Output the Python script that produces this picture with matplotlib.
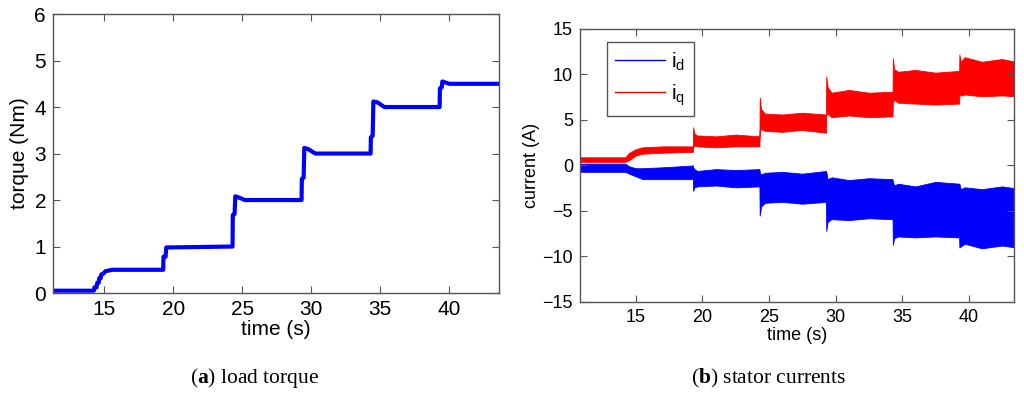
import numpy as np
import matplotlib.pyplot as plt

plt.rcParams['font.family'] = ['Liberation Sans', 'DejaVu Sans']
plt.rcParams['mathtext.fontset'] = 'custom'
plt.rcParams['mathtext.rm'] = 'Liberation Sans'
plt.rcParams['mathtext.it'] = 'Liberation Sans'
plt.rcParams['mathtext.bf'] = 'Liberation Serif:bold'

# =========================================================
# LOAD TORQUE (breakpoints)
t_torque = [11.3, 14.25, 14.3, 14.45, 14.5, 14.6, 14.65, 14.75, 14.8, 14.95, 15.1, 15.6,
            19.28, 19.3, 19.45, 19.5,
            24.3, 24.32, 24.45, 24.5, 24.7, 25.2, 29.3, 29.32, 29.45, 29.5, 29.75, 30.3,
            34.3, 34.32, 34.45, 34.5, 34.8, 35.3, 39.3, 39.32, 39.45, 39.5, 39.7, 40.0, 43.6]
torque = [0.05, 0.05, 0.12, 0.12, 0.22, 0.22, 0.32, 0.32, 0.4, 0.42, 0.47, 0.5,
          0.5, 0.78, 0.78, 0.98,
          1.0, 1.68, 1.7, 2.08, 2.06, 2.0, 2.0, 2.45, 2.48, 3.12, 3.1, 3.0,
          3.0, 3.35, 3.38, 4.12, 4.1, 4.0, 4.0, 4.4, 4.42, 4.55, 4.53, 4.5, 4.5]

# =========================================================
# STATOR CURRENTS - envelope of the noisy bands
t_cur = [10.8, 14.2, 14.5, 15.0, 15.5, 17.0, 19.28,
         19.3, 19.4, 19.6, 21.0, 22.5, 24.28,
         24.3, 24.4, 24.7, 26.0, 27.5, 29.28,
         29.3, 29.4, 29.7, 31.0, 32.5, 34.28,
         34.3, 34.4, 34.7, 36.0, 37.5, 39.28,
         39.3, 39.4, 39.7, 41.0, 42.5, 43.5]
iq_hi = [0.9, 0.9, 1.4, 1.8, 2.0, 2.1, 2.1,
         4.2, 3.5, 3.3, 3.2, 3.4, 3.2,
         7.5, 6.2, 5.7, 5.6, 5.8, 5.6,
         9.8, 8.6, 8.0, 8.3, 8.0, 8.1,
         11.8, 10.6, 10.3, 10.5, 10.2, 10.4,
         12.2, 11.4, 11.9, 11.4, 11.7, 11.4]
iq_lo = [0.4, 0.4, 0.6, 1.1, 1.3, 1.4, 1.5,
         2.0, 2.2, 2.1, 2.0, 2.1, 2.1,
         3.8, 4.0, 3.8, 3.7, 3.9, 3.6,
         5.6, 5.7, 5.3, 5.5, 5.3, 5.4,
         6.9, 7.2, 6.9, 6.8, 6.7, 6.8,
         7.7, 7.7, 7.8, 7.6, 7.7, 7.6]
id_hi = [0.2, 0.2, -0.1, -0.3, -0.3, -0.2, 0.0,
         -0.2, -0.4, -0.6, -0.4, -0.5, -0.4,
         -0.7, -1.0, -0.8, -0.7, -0.9, -0.6,
         -0.7, -1.5, -1.3, -1.6, -1.4, -1.5,
         -1.7, -2.2, -2.0, -2.3, -1.8, -2.0,
         -2.0, -2.6, -2.4, -2.6, -2.3, -2.5]
id_lo = [-0.7, -0.7, -0.9, -1.2, -1.5, -1.5, -1.5,
         -2.8, -2.4, -2.3, -2.2, -2.4, -2.3,
         -5.5, -4.5, -4.1, -4.0, -4.2, -4.0,
         -7.2, -6.2, -5.9, -6.0, -5.8, -5.9,
         -8.7, -8.0, -7.8, -7.9, -7.8, -7.9,
         -9.0, -8.9, -8.6, -9.1, -8.8, -9.0]

x_ticks = [15, 20, 25, 30, 35, 40]


def matlab_axes(ax, size):
    for s in ax.spines.values():
        s.set_color('#555555')
        s.set_linewidth(1.0)
    ax.tick_params(direction='in', top=True, right=True, length=5,
                   color='#555555', labelsize=size, pad=5)


def main():
    fig = plt.figure(figsize=(10.24, 3.96), dpi=100)

    # (a) load torque
    ax1 = fig.add_axes([0.0518, 0.260, 0.4355, 0.7045])
    ax1.plot(t_torque, torque, color='#0000ff', linewidth=3.0)
    ax1.set_xlim(11.3, 43.6)
    ax1.set_ylim(0, 6)
    ax1.set_xticks(x_ticks)
    ax1.set_yticks(range(0, 7))
    ax1.set_xlabel('time (s)', fontsize=15, labelpad=1)
    ax1.set_ylabel('torque (Nm)', fontsize=15, labelpad=4)
    matlab_axes(ax1, 15)

    # (b) stator currents
    ax2 = fig.add_axes([0.5664, 0.2374, 0.4238, 0.6894])
    ax2.fill_between(t_cur, id_lo, id_hi, color='#0000ff', linewidth=0.6)
    ax2.fill_between(t_cur, iq_lo, iq_hi, color='#ff0000', linewidth=0.6)
    ax2.plot([], [], color='#0000ff', linewidth=1.0, label='i$_\\mathrm{d}$')
    ax2.plot([], [], color='#ff0000', linewidth=1.0, label='i$_\\mathrm{q}$')
    ax2.set_xlim(10.8, 43.4)
    ax2.set_ylim(-15, 15)
    ax2.set_xticks(x_ticks)
    ax2.set_yticks(range(-15, 16, 5))
    ax2.set_xlabel('time (s)', fontsize=13, labelpad=1)
    ax2.set_ylabel('current (A)', fontsize=13, labelpad=2)
    matlab_axes(ax2, 13)
    leg = ax2.legend(loc='upper left', bbox_to_anchor=(0.062, 0.952), borderaxespad=0,
                     fontsize=15, handlelength=2.4, handletextpad=0.3, labelspacing=0.45,
                     borderpad=0.4, fancybox=False, edgecolor='#555555', framealpha=1)
    leg.get_frame().set_linewidth(1.0)

    # captions
    fig.text(0.249, 0.045, '($\\mathbf{a}$) load torque', ha='center', va='center',
             fontsize=15.5, family='Liberation Serif')
    fig.text(0.751, 0.045, '($\\mathbf{b}$) stator currents', ha='center', va='center',
             fontsize=15.5, family='Liberation Serif')

    fig.savefig('out.png', dpi=100)


if __name__ == "__main__":
    main()
